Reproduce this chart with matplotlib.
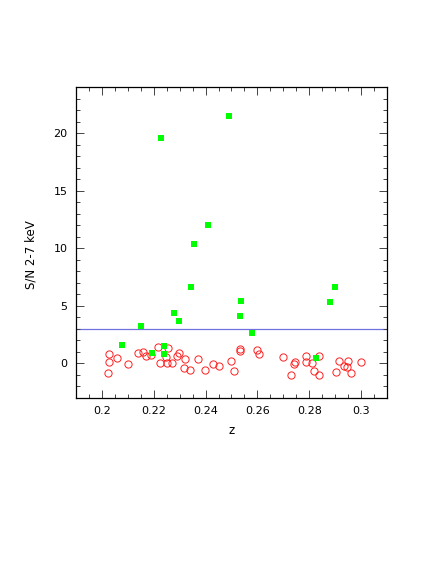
import numpy as np
import matplotlib
matplotlib.use('Agg')
import matplotlib.pyplot as plt
from matplotlib.ticker import MultipleLocator

# Detected sources (S/N > threshold candidates), green squares
z_det = [0.2228, 0.2490, 0.2411, 0.2356, 0.2343, 0.2537, 0.2533, 0.2278, 0.2299,
         0.2151, 0.2578, 0.2879, 0.2898, 0.2078, 0.2194, 0.2240, 0.2240, 0.2825]
sn_det = [19.57, 21.48, 12.06, 10.38, 6.62, 5.43, 4.16, 4.34, 3.70,
          3.21, 2.63, 5.32, 6.62, 1.59, 0.95, 1.50, 0.84, 0.49]

# Non-detections, red open circles
z_non = [0.2029, 0.2029, 0.2024, 0.2059, 0.2099, 0.2141, 0.2160, 0.2169, 0.2191,
         0.2215, 0.2224, 0.2256, 0.2248, 0.2252, 0.2270, 0.2289, 0.2298, 0.2320,
         0.2318, 0.2339, 0.2370, 0.2399, 0.2429, 0.2453, 0.2499, 0.2508, 0.2533,
         0.2533, 0.2599, 0.2608, 0.2698, 0.2729, 0.2741, 0.2746, 0.2786, 0.2789,
         0.2811, 0.2820, 0.2836, 0.2839, 0.2905, 0.2915, 0.2936, 0.2951, 0.2947,
         0.2960, 0.2998]
sn_non = [0.82, 0.17, -0.85, 0.48, -0.07, 0.88, 1.00, 0.68, 0.74,
          1.46, 0.07, 1.36, 0.52, 0.00, 0.00, 0.69, 0.87, 0.36,
          -0.36, -0.55, 0.42, -0.54, -0.02, -0.19, 0.22, -0.65, 1.27,
          1.10, 1.21, 0.78, 0.58, -1.04, -0.03, 0.13, 0.65, 0.13,
          0.00, -0.62, 0.61, -0.97, -0.74, 0.20, -0.20, 0.20, -0.30,
          -0.80, 0.13]

threshold = 3.0

plt.rcParams['font.family'] = ['DejaVu Sans']

fig = plt.figure(figsize=(4.36, 5.64), dpi=100)
ax = fig.add_axes([0.1743, 0.2943, 0.7133, 0.5514])

ax.axhline(threshold, color='#7070e0', lw=0.9, zorder=1)
ax.plot(z_non, sn_non, 'o', mfc='none', mec='#ff2020', mew=0.7, ms=5.2, zorder=2)
ax.plot(z_det, sn_det, 's', color='#00ff00', ms=5.0, mew=0, zorder=3)

ax.set_xlim(0.19, 0.31)
ax.set_ylim(-3, 24)
ax.xaxis.set_major_locator(MultipleLocator(0.02))
ax.xaxis.set_minor_locator(MultipleLocator(0.005))
ax.yaxis.set_major_locator(MultipleLocator(5))
ax.yaxis.set_minor_locator(MultipleLocator(1))
ax.set_xticks([0.2, 0.22, 0.24, 0.26, 0.28, 0.3])
ax.set_xticklabels(['0.2', '0.22', '0.24', '0.26', '0.28', '0.3'])

ax.tick_params(which='both', direction='in', top=True, right=True, labelsize=8, width=0.7, color='#444444')
ax.tick_params(which='major', length=6, pad=6)
ax.tick_params(which='minor', length=3)
for s in ax.spines.values():
    s.set_linewidth(0.9)

ax.set_xlabel('z', fontsize=8.5)
ax.set_ylabel('S/N 2-7 keV', fontsize=8.5)
ax.xaxis.set_label_coords(0.5, -0.085)
ax.yaxis.set_label_coords(-0.125, 0.46)

fig.savefig('out.png', dpi=100)
